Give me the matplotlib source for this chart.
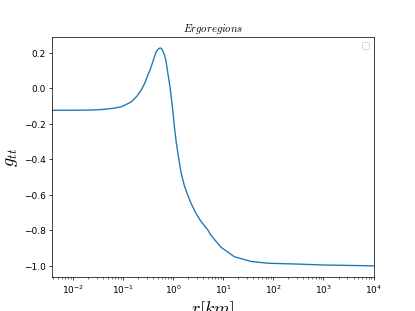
import matplotlib
matplotlib.use('Agg')
from matplotlib import pyplot as plt

plt.rcParams['mathtext.fontset'] = 'cm'

# radius in km
r = [0.0038, 0.01, 0.023, 0.037, 0.06, 0.092, 0.146, 0.19, 0.23, 0.27,
     0.314, 0.35, 0.394, 0.459, 0.503, 0.53, 0.558, 0.585, 0.612, 0.671, 0.72, 0.785,
     0.843, 0.883, 0.986, 1.06, 1.15, 1.30, 1.44, 1.68, 2.11, 2.28,
     2.87, 3.61, 4.91, 5.70, 9.02, 16.6, 35.7, 76.7, 307, 1010, 10000]
g_tt = [-0.123, -0.123, -0.122, -0.119, -0.113, -0.104, -0.076, -0.043, -0.009, 0.028,
        0.076, 0.108, 0.151, 0.207, 0.221, 0.226, 0.228, 0.224, 0.215, 0.189, 0.155, 0.085,
        0.03, -0.01, -0.125, -0.215, -0.30, -0.40, -0.475, -0.55, -0.625, -0.648,
        -0.705, -0.75, -0.797, -0.828, -0.895, -0.948, -0.975, -0.985, -0.99, -0.995, -1.0]

fig = plt.figure(figsize=(6.4, 4.8), dpi=64.85)
ax = fig.add_subplot(111)

ax.plot(r, g_tt)
ax.set_xscale('log')
ax.set_xlim(0.0038, 1e4)

ax.set_title('$Ergoregions$')
ax.set_xlabel('$r[km]$', fontsize=20)
ax.set_ylabel('$g_{tt}$', fontsize=20)
ax.legend()

fig.savefig('out.png')
